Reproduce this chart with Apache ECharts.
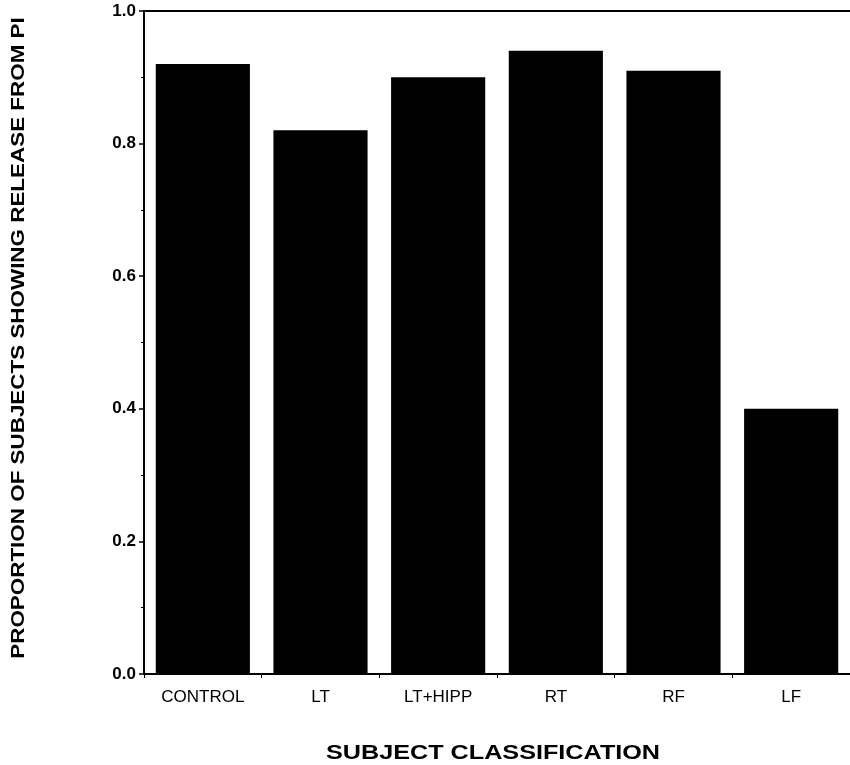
<!DOCTYPE html>
<html>
<head>
<meta charset="utf-8">
<script src="https://cdn.jsdelivr.net/npm/echarts@6/dist/echarts.min.js"></script>
<style>
  html, body { margin: 0; padding: 0; background: #fff; }
  #chart { width: 850px; height: 765px; }
</style>
</head>
<body>
<div id="chart"></div>
<script>
// data
var categories = ["CONTROL", "LT", "LT+HIPP", "RT", "RF", "LF"];
var proportions = [0.92, 0.82, 0.90, 0.94, 0.91, 0.40];
var yTicks = [0, 0.2, 0.4, 0.6, 0.8, 1.0];

var xTitle = "SUBJECT CLASSIFICATION";
var yTitle = "PROPORTION OF SUBJECTS SHOWING RELEASE FROM PI";

var myChart = echarts.init(document.getElementById("chart"));

var option = {
  backgroundColor: "#fff",
  animation: false,
  grid: {
    left: 144,
    top: 11,
    width: 717,   // plot runs a little past the right edge, like the scan
    height: 663
  },
  // axis titles: the scan's lettering is wider than Liberation, so stretch a bit
  graphic: [
    {
      type: "text",
      x: 493,
      y: 753,
      scaleX: 1.2,
      style: {
        text: xTitle,
        fill: "#000",
        fontFamily: "Liberation Sans",
        fontWeight: "bold",
        fontSize: 21,
        align: "center",
        verticalAlign: "middle"
      }
    },
    {
      type: "text",
      x: 19,
      y: 338,
      rotation: Math.PI / 2,
      scaleX: 1.18,
      style: {
        text: yTitle,
        fill: "#000",
        fontFamily: "Liberation Sans",
        fontWeight: "bold",
        fontSize: 19,
        align: "center",
        verticalAlign: "middle"
      }
    }
  ],
  xAxis: [
    {
      type: "category",
      data: categories,
      axisLine: { lineStyle: { color: "#000", width: 2 } },
      axisTick: { show: true, length: 4, lineStyle: { color: "#000" } },
      axisLabel: {
        color: "#000",
        fontFamily: "Liberation Sans",
        fontSize: 17,
        margin: 15
      }
    },
    {
      // top frame line
      type: "category",
      position: "top",
      data: categories,
      axisLine: { lineStyle: { color: "#000", width: 2 } },
      axisTick: { show: false },
      axisLabel: { show: false }
    }
  ],
  yAxis: {
    type: "value",
    min: 0,
    max: 1,
    interval: 0.2,
    axisLine: { show: true, lineStyle: { color: "#000", width: 2 } },
    axisTick: { show: true, length: 5, lineStyle: { color: "#000", width: 1.5 } },
    minorTick: { show: true, splitNumber: 2, length: 3, lineStyle: { color: "#000" } },
    splitLine: { show: false },
    axisLabel: {
      color: "#000",
      fontFamily: "Liberation Sans",
      fontWeight: "bold",
      fontSize: 17,
      margin: 8,
      formatter: function (v) {
        return yTicks.indexOf(v) >= 0 ? v.toFixed(1) : "";
      }
    }
  },
  series: [
    {
      type: "bar",
      data: proportions,
      barCategoryGap: "20%",
      itemStyle: { color: "#000" }
    }
  ]
};

myChart.setOption(option);
</script>
</body>
</html>
